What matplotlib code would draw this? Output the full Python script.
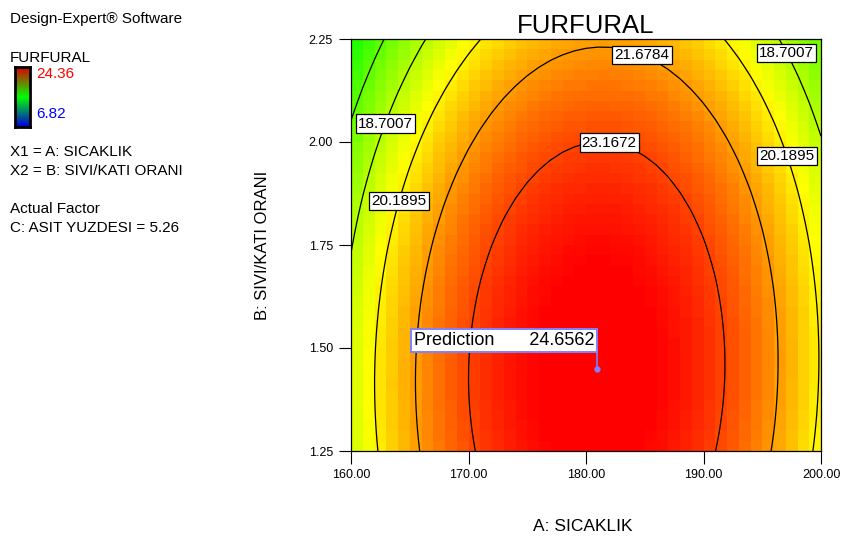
import numpy as np
import matplotlib
matplotlib.use('Agg')
import matplotlib.pyplot as plt
from matplotlib.colors import LinearSegmentedColormap

plt.rcParams['font.family'] = ['Liberation Sans', 'DejaVu Sans']

# factor ranges (actual units)
a_range = [160.0, 200.0]   # A: SICAKLIK
b_range = [1.25, 2.25]     # B: SIVI/KATI ORANI
c_fixed = 5.26             # C: ASIT YUZDESI

# fitted quadratic model in coded units
# terms:     b0      A      B      AB     A^2    B^2
coefs = [24.189, 0.55, -1.481, 0.15, -5.0, -1.203]

levels = [17.2119, 18.7007, 20.1895, 21.6784, 23.1672]
legend_hi = 24.36
legend_lo = 6.82

pred_a = 180.94
pred_b = 1.45
pred_val = 24.6562

xticks = [160.0, 170.0, 180.0, 190.0, 200.0]
yticks = [1.25, 1.50, 1.75, 2.00, 2.25]

# where the contour labels sit (data coords)
label_pos = [(162.8, 2.046), (163.9, 1.858), (185.0, 2.228),
             (197.2, 2.218), (182.0, 2.016), (197.4, 1.968)]


def furfural(a, b):
    A = (a - np.mean(a_range)) / ((a_range[1] - a_range[0]) / 2)
    B = (b - np.mean(b_range)) / ((b_range[1] - b_range[0]) / 2)
    k = coefs
    return k[0] + k[1]*A + k[2]*B + k[3]*A*B + k[4]*A**2 + k[5]*B**2


n = 40
ae = np.linspace(a_range[0], a_range[1], n + 1)
be = np.linspace(b_range[0], b_range[1], n + 1)
ac = (ae[:-1] + ae[1:]) / 2
bc = (be[:-1] + be[1:]) / 2
AC, BC = np.meshgrid(ac, bc)
AE, BE = np.meshgrid(ae, be)

dx_cmap = LinearSegmentedColormap.from_list(
    'dx', [(0.0, '#0000ff'), (0.5, '#00ff00'), (0.75, '#ffff00'), (1.0, '#ff0000')])
bar_cmap = LinearSegmentedColormap.from_list('dxbar', ['#0000e0', '#00ff00', '#e00000'])

fig = plt.figure(figsize=(8.41, 5.41), dpi=100)
ax = fig.add_axes([351/841, 90/541, 470/841, 412/541])

ax.pcolormesh(AE, BE, furfural(AC, BC), cmap=dx_cmap,
              vmin=legend_lo, vmax=legend_hi, shading='flat')
ax.contour(AE, BE, furfural(AE, BE), levels=levels, colors='black', linewidths=0.9)
# labelled levels only (invisible copy used for label placement)
cs_lab = ax.contour(AE, BE, furfural(AE, BE), levels=levels[1:], colors='black', linewidths=0)
cl = ax.clabel(cs_lab, manual=label_pos, inline=False,
               fontsize=11, fmt=lambda v: '%.4f' % v)
for t in cl:
    t.set_rotation(0)
    t.set_bbox(dict(boxstyle='square,pad=0.14', fc='white', ec='black', lw=0.9))
    t.set_zorder(5)

# prediction flag: stem from the point, box sitting on top of it
pcol = '#8080ff'
ax.plot([pred_a], [pred_b], 'o', color=pcol, ms=3.5, zorder=6)
ax.annotate('', xy=(pred_a, pred_b), xytext=(0, 12), textcoords='offset points',
            arrowprops=dict(arrowstyle='-', color=pcol, lw=1.2, shrinkA=0, shrinkB=0),
            zorder=6)
ax.annotate('Prediction       %.4f' % pred_val, xy=(pred_a, pred_b),
            xytext=(-2.0, 14.0), textcoords='offset points', ha='right', va='bottom',
            fontsize=13, zorder=7,
            bbox=dict(boxstyle='square,pad=0.15', fc='white', ec=pcol, lw=1.4))

ax.set_xlim(a_range)
ax.set_ylim(b_range)
ax.set_xticks(xticks)
ax.set_yticks(yticks)
ax.set_xticklabels(['%.2f' % v for v in xticks])
ax.set_yticklabels(['%.2f' % v for v in yticks])
ax.tick_params(direction='out', length=9, width=0.8, labelsize=9, pad=4)
for s in ax.spines.values():
    s.set_linewidth(0.9)

ax.set_title('FURFURAL', fontsize=18.5, pad=4)
ax.set_xlabel('A: SICAKLIK', fontsize=12.5)
ax.xaxis.set_label_coords(0.494, -0.165)
ax.set_ylabel('B: SIVI/KATI ORANI', fontsize=12)
ax.yaxis.set_label_coords(-0.172, 0.5)

# left information panel
def ftext(px, py, s, **kw):
    fig.text(px/841, 1 - py/541, s, va='center', ha='left', fontsize=11, **kw)


ftext(10, 19, 'Design-Expert® Software')
ftext(10, 58, 'FURFURAL')
ftext(36, 74, '%.2f' % legend_hi, color='#ff0000')
ftext(36, 114, '%.2f' % legend_lo, color='#0000ff')
ftext(10, 152, 'X1 = A: SICAKLIK')
ftext(10, 171, 'X2 = B: SIVI/KATI ORANI')
ftext(10, 209, 'Actual Factor')
ftext(10, 228, 'C: ASIT YUZDESI = %.2f' % c_fixed)

cax = fig.add_axes([15/841, (541-127)/541, 15/841, 60/541])
cax.imshow(np.linspace(1, 0, 64).reshape(-1, 1), cmap=bar_cmap, aspect='auto')
cax.set_xticks([])
cax.set_yticks([])
for s in cax.spines.values():
    s.set_linewidth(2)

fig.savefig('out.png', dpi=100)
